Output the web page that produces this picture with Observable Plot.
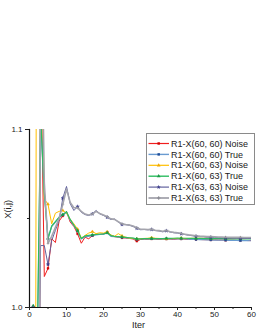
<!DOCTYPE html>
<html><head><meta charset="utf-8">
<script src="https://cdn.jsdelivr.net/npm/d3@7"></script>
<script src="https://cdn.jsdelivr.net/npm/@observablehq/plot@0.6"></script>
<style>html,body{margin:0;padding:0;background:#fff;}#chart{position:relative;width:258px;height:333px;}</style>
</head><body><div id="chart"></div>
<script>
const iters = [1,2,3,4,5,6,7,8,9,10,11,12,13,14,15,16,17,18,19,20,21,22,23,24,25,26,27,28,29,30,31,32,33,34,35,36,37,38,39,40,41,42,43,44,45,46,47,48,49,50,51,52,53,54,55,56,57,58,59,60];
const seriesNames = ["R1-X(60, 60) Noise","R1-X(60, 60) True","R1-X(60, 63) Noise","R1-X(60, 63) True","R1-X(63, 63) Noise","R1-X(63, 63) True"];
const red = [1.000,0.500,1.150,1.0174,1.0220,1.0386,1.0365,1.0485,1.0515,1.0540,1.0480,1.0455,1.0414,1.0361,1.0395,1.0386,1.0404,1.0412,1.0410,1.0414,1.0423,1.0405,1.0398,1.0395,1.0392,1.0390,1.0388,1.0385,1.0373,
 1.0382,1.0384,1.0383,1.0386,1.0384,1.0383,1.0384,1.0385,1.0384,1.0383,1.0385,1.0386,1.0384,1.0383,1.0382,1.0383,1.0382,1.0381,1.0381,1.0380,1.0380,1.0379,1.0379,1.0378,1.0378,1.0378,1.0377,1.0377,1.0377,1.0376,1.0376];
const blue = [1.000,0.960,1.105,1.065,1.0386,1.0455,1.0480,1.0505,1.0520,1.0535,1.0490,1.0460,1.0430,1.0385,1.0398,1.0400,1.0405,1.0408,1.0410,1.0410,1.0420,1.0400,1.0398,1.0396,1.0394,1.0392,1.0390,1.0388,1.0382,
 1.0385,1.0386,1.0386,1.0387,1.0386,1.0385,1.0385,1.0386,1.0385,1.0385,1.0386,1.0386,1.0385,1.0384,1.0383,1.0382,1.0381,1.0381,1.0380,1.0380,1.0379,1.0379,1.0378,1.0378,1.0377,1.0377,1.0377,1.0376,1.0376,1.0376,1.0375];
const yellow = [0.300,1.300,1.190,1.061,1.058,1.047,1.053,1.054,1.0545,1.053,1.0495,1.047,1.044,1.039,1.0405,1.0418,1.0426,1.0415,1.0420,1.0418,1.0425,1.0408,1.0400,1.0415,1.0402,1.0395,1.0390,1.0388,1.0385,
 1.0387,1.0388,1.0389,1.0392,1.0389,1.0388,1.0387,1.0386,1.0387,1.0388,1.0388,1.0389,1.0388,1.0388,1.0389,1.0389,1.0389,1.0389,1.0389,1.0389,1.0389,1.0389,1.0389,1.0389,1.0389,1.0389,1.0389,1.0389,1.0389,1.0389,1.0389];
const green = [1.001,0.965,1.108,1.064,1.0388,1.0458,1.0482,1.0507,1.0522,1.0538,1.0495,1.0462,1.0432,1.0388,1.0402,1.0405,1.0408,1.0410,1.0412,1.0414,1.0420,1.0404,1.0400,1.0398,1.0396,1.0394,1.0392,1.0390,1.0386,
 1.0386,1.0387,1.0387,1.0388,1.0387,1.0387,1.0387,1.0388,1.0388,1.0389,1.0390,1.0389,1.0389,1.0388,1.0388,1.0388,1.0388,1.0387,1.0387,1.0387,1.0387,1.0387,1.0387,1.0386,1.0386,1.0386,1.0386,1.0386,1.0386,1.0386,1.0386];
const purple = [1.000,0.850,1.0348,1.0348,1.0242,1.0376,1.0433,1.0489,1.0614,1.0680,1.0583,1.0545,1.0567,1.0535,1.0522,1.0517,1.0526,1.0545,1.0526,1.0517,1.0507,1.0494,1.0497,1.0480,1.0466,1.0465,1.0462,1.0455,1.0445,
 1.0437,1.0438,1.0436,1.0438,1.0432,1.0430,1.0425,1.0431,1.0424,1.0420,1.0418,1.0414,1.0410,1.0406,1.0403,1.0400,1.0398,1.0397,1.0395,1.0394,1.0393,1.0392,1.0391,1.0390,1.0390,1.0389,1.0389,1.0388,1.0388,1.0388,1.0387];
const grey = [1.000,0.400,1.200,1.070,1.036,1.040,1.045,1.050,1.058,1.0665,1.0590,1.0560,1.0560,1.0540,1.0525,1.0520,1.0525,1.0540,1.0528,1.0520,1.0510,1.0498,1.0495,1.0482,1.0470,1.0466,1.0464,1.0458,1.0448,
 1.0440,1.0440,1.0438,1.0440,1.0434,1.0432,1.0428,1.0433,1.0426,1.0422,1.0420,1.0416,1.0412,1.0408,1.0406,1.0403,1.0401,1.0400,1.0399,1.0398,1.0397,1.0396,1.0396,1.0395,1.0395,1.0394,1.0394,1.0394,1.0393,1.0393,1.0393];
const xTicks = [0,10,20,30,40,50,60];
const xMinor = [5,15,25,35,45,55];
const yTicks = [1.0,1.1];
const yMinor = [1.05];

const values = [red, blue, yellow, green, purple, grey];
const lineColors = ["#f01e1e","#6a9bd0","#ffbf00","#2dbd60","#62629e","#a4a4ad"];
const markColors = ["#d40000","#1f4e99","#f0a800","#1a9a45","#3a3a8a","#8a8a92"];
const symbols = ["square","square","triangle","triangle","star","plus"];
const widths = [1,1.2,1,1.2,1,1.6];

const font = "'Liberation Sans', Arial, sans-serif";
const marks = [];
values.forEach((vals, k) => {
  const rows = iters.map((it, i) => ({iter: it, v: vals[i]}));
  marks.push(Plot.line(rows, {x: "iter", y: "v", stroke: lineColors[k], strokeWidth: widths[k], clip: true}));
  marks.push(Plot.dot(rows.filter(d => d.iter % 4 === 1), {x: "iter", y: "v", symbol: () => symbols[k], fill: markColors[k], stroke: markColors[k], strokeWidth: 0.4, r: 1.1, clip: true}));
});

const plot = Plot.plot({
  width: 258, height: 333,
  marginLeft: 29, marginRight: 7, marginTop: 129, marginBottom: 26,
  style: {fontFamily: font, fontSize: "8px", color: "#222", background: "#fff"},
  x: {domain: [0, 60]},
  y: {domain: [1.0, 1.1]},
  symbol: {type: "identity"},
  marks: [
    ...marks,
    Plot.frame({anchor: "left", stroke: "#111", strokeWidth: 1.2}),
    Plot.frame({anchor: "bottom", stroke: "#111", strokeWidth: 1}),
    Plot.axisX({ticks: xTicks, tickSize: 3, tickPadding: 1, label: null, fontSize: 8}),
    Plot.axisX({ticks: xMinor, tickSize: 2, tickFormat: () => "", label: null}),
    Plot.axisY({ticks: yTicks, tickSize: 4, tickPadding: 3, tickFormat: d => d.toFixed(1), label: null, fontSize: 8}),
    Plot.axisY({ticks: yMinor, tickSize: 2, tickFormat: () => "", label: null}),
    Plot.text(["X(i,j)"], {text: d => d, frameAnchor: "left", rotate: -90, dx: -21, fontSize: 9, fill: "#222"}),
    Plot.text(["Iter"], {text: d => d, frameAnchor: "bottom", dy: 20, dx: -2, fontSize: 9, fill: "#222"})
  ]
});
document.getElementById("chart").appendChild(plot);

// legend
const svg = d3.select(plot);
const lg = svg.append("g").attr("font-family", font).attr("font-size", 9).attr("text-anchor", "start");
lg.append("rect").attr("x", 146.5).attr("y", 133.5).attr("width", 108).attr("height", 71)
  .attr("fill", "#fff").attr("stroke", "#8a8a8a").attr("stroke-width", 1);
seriesNames.forEach((name, i) => {
  const cy = 143.5 + i * 10.9;
  lg.append("line").attr("x1", 148.5).attr("x2", 169).attr("y1", cy).attr("y2", cy)
    .attr("stroke", lineColors[i]).attr("stroke-width", widths[i] + 0.2);
  const sym = {square: d3.symbolSquare, triangle: d3.symbolTriangle, star: d3.symbolStar, plus: d3.symbolCross}[symbols[i]];
  lg.append("path").attr("d", d3.symbol(sym, 6)()).attr("transform", `translate(158.7,${cy})`).attr("fill", markColors[i]);
  lg.append("text").attr("x", 171).attr("y", cy).attr("dy", "0.35em").attr("text-anchor", "start").attr("fill", "#222").text(name);
});
</script></body></html>
